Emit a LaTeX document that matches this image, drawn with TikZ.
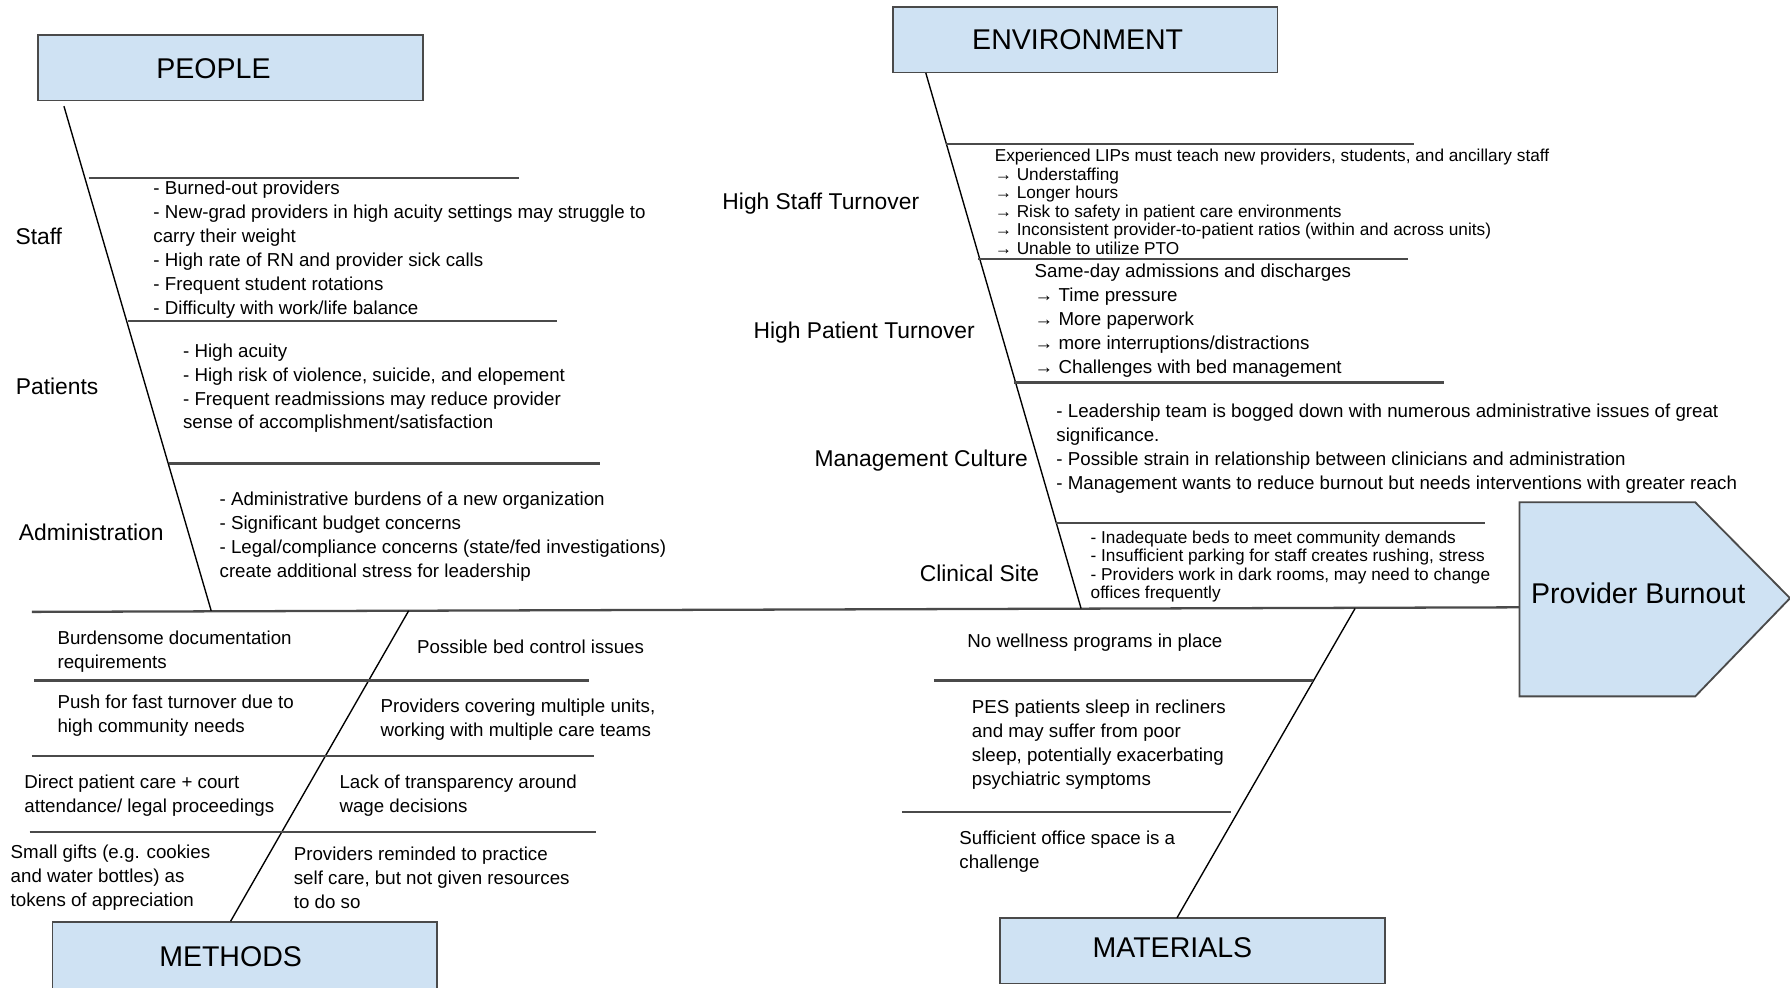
\documentclass[tikz,border=0pt]{standalone}
\usepackage{fontspec}
\setmainfont{Liberation Sans}
\definecolor{catblue}{HTML}{CFE2F3}
\definecolor{ribgray}{HTML}{4A4A4A}
\tikzset{
  catbox/.style={draw=ribgray, line width=0.8pt, fill=catblue, minimum width=168.5pt, minimum height=28.5pt, inner sep=0},
  cattext/.style={font=\fontsize{12.5}{15}\selectfont, inner sep=0},
  cause/.style={font=\fontsize{10}{12}\selectfont, inner sep=0},
  note/.style={font=\fontsize{8.2}{10.5}\selectfont, align=left, anchor=north west, inner sep=0},
  smallnote/.style={font=\fontsize{7.55}{8.1}\selectfont, align=left, anchor=north west, inner sep=0},
  bone/.style={line width=0.6pt},
  rib/.style={draw=ribgray, line width=1pt}
}
\begin{document}
\begin{tikzpicture}[x=0.5pt, y=-0.5pt]
\useasboundingbox (0,0) rectangle (1568,865);
%
     \node [catbox] at (202,59.5) (people) {};
     \node [cattext] at (187,60) (peopleTxt) {PEOPLE};
     \node [catbox] at (950.5,35) (env) {};
     \node [cattext] at (944,35) (envTxt) {ENVIRONMENT};
     \node [catbox, minimum height=30pt] at (214.5,838) (methods) {};
     \node [cattext] at (202,838) (methodsTxt) {METHODS};
     \node [catbox] at (1044.5,833) (materials) {};
     \node [cattext] at (1027,830) (materialsTxt) {MATERIALS};
%
\draw[draw=ribgray, line width=0.8pt, fill=catblue] (1331,440) -- (1485,440) -- (1568,524) -- (1485,610) -- (1331,610) -- cycle;
     \node [cattext] at (1435,520) (effect) {Provider Burnout};
%
     \coordinate (tail) at (28,536);
     \coordinate (head) at (1331,532);
\draw[rib] (tail) -- (head);
%
     \coordinate (pplTop) at (56,93);
     \coordinate (pplFoot) at (185,535);
     \coordinate (envTop) at (811,64);
     \coordinate (envFoot) at (947,533);
     \coordinate (mthTop) at (358,535);
     \coordinate (mthFoot) at (202,807);
     \coordinate (matTop) at (1187,533);
     \coordinate (matFoot) at (1031,804);
\draw[bone] (pplTop) -- (pplFoot);
\draw[bone] (envTop) -- (envFoot);
\draw[bone] (mthTop) -- (mthFoot);
\draw[bone] (matTop) -- (matFoot);
%
     \coordinate (p1a) at (78,156);   \coordinate (p1b) at (455,156);
     \coordinate (p2a) at (112,281);  \coordinate (p2b) at (488,281);
     \coordinate (p3a) at (148,406);  \coordinate (p3b) at (526,406);
\draw[rib] (p1a) -- (p1b);
\draw[rib] (p2a) -- (p2b);
\draw[rib] (p3a) -- (p3b);
     \coordinate (e1a) at (829,126);  \coordinate (e1b) at (1239,126);
     \coordinate (e2a) at (857,227);  \coordinate (e2b) at (1233,227);
     \coordinate (e3a) at (888,335);  \coordinate (e3b) at (1265,335);
     \coordinate (e4a) at (925,458);  \coordinate (e4b) at (1301,458);
\draw[rib] (e1a) -- (e1b);
\draw[rib] (e2a) -- (e2b);
\draw[rib] (e3a) -- (e3b);
\draw[rib] (e4a) -- (e4b);
     \coordinate (m1a) at (30,596);   \coordinate (m1b) at (516,596);
     \coordinate (m2a) at (28,662);   \coordinate (m2b) at (520,662);
     \coordinate (m3a) at (26,729);   \coordinate (m3b) at (522,729);
\draw[rib] (m1a) -- (m1b);
\draw[rib] (m2a) -- (m2b);
\draw[rib] (m3a) -- (m3b);
     \coordinate (t1a) at (818,596);  \coordinate (t1b) at (1150,596);
     \coordinate (t2a) at (790,711);  \coordinate (t2b) at (1078,711);
\draw[rib] (t1a) -- (t1b);
\draw[rib] (t2a) -- (t2b);
%
     \node [cause] at (34,207) (staff) {Staff};
     \node [cause] at (50,338) (patients) {Patients};
     \node [cause] at (80,466) (admin) {Administration};
     \node [cause] at (719,178.5) (staffTurn) {High Staff Turnover};
     \node [cause] at (757,291.5) (patTurn) {High Patient Turnover};
     \node [cause] at (807,403.5) (mgmt) {Management Culture};
     \node [cause] at (858,502) (site) {Clinical Site};
%
     \node [note] at (134,158.5) (staffTxt) {- Burned-out providers\\- New-grad providers in high acuity settings may struggle to\\carry their weight\\- High rate of RN and provider sick calls\\- Frequent student rotations\\- Difficulty with work/life balance};
     \node [note] at (160,300.5) (patientsTxt) {- High acuity\\- High risk of violence, suicide, and elopement\\- Frequent readmissions may reduce provider\\sense of accomplishment/satisfaction};
     \node [note] at (192,430.5) (adminTxt) {- Administrative burdens of a new organization\\- Significant budget concerns\\- Legal/compliance concerns (state/fed investigations)\\create additional stress for leadership};
%
     \node [smallnote] at (871,130.5) (staffTurnTxt) {Experienced LIPs must teach new providers, students, and ancillary staff\\→ Understaffing\\→ Longer hours\\→ Risk to safety in patient care environments\\→ Inconsistent provider-to-patient ratios (within and across units)\\→ Unable to utilize PTO};
     \node [note] at (906,230.5) (patTurnTxt) {Same-day admissions and discharges\\→ Time pressure\\→ More paperwork\\→ more interruptions/distractions\\→ Challenges with bed management};
     \node [note] at (925,353.5) (mgmtTxt) {- Leadership team is bogged down with numerous administrative issues of great\\significance.\\- Possible strain in relationship between clinicians and administration\\- Management wants to reduce burnout but needs interventions with greater reach};
     \node [smallnote] at (955,464.5) (siteTxt) {- Inadequate beds to meet community demands\\- Insufficient parking for staff creates rushing, stress\\- Providers work in dark rooms, may need to change\\offices frequently};
%
     \node [note] at (50,552.5) (docs) {Burdensome documentation\\requirements};
     \node [note] at (365,560.5) (beds) {Possible bed control issues};
     \node [note] at (50,608.5) (fast) {Push for fast turnover due to\\high community needs};
     \node [note] at (333,611.5) (units) {Providers covering multiple units,\\working with multiple care teams};
     \node [note] at (21,678.5) (court) {Direct patient care + court\\attendance/ legal proceedings};
     \node [note] at (297,678.5) (wage) {Lack of transparency around\\wage decisions};
     \node [note] at (9,739.5) (gifts) {Small gifts (e.g. cookies\\and water bottles) as\\tokens of appreciation};
     \node [note] at (257,741.5) (selfcare) {Providers reminded to practice\\self care, but not given resources\\to do so};
%
     \node [note] at (847,554.5) (wellness) {No wellness programs in place};
     \node [note] at (851,612.5) (sleep) {PES patients sleep in recliners\\and may suffer from poor\\sleep, potentially exacerbating\\psychiatric symptoms};
     \node [note] at (840,727.5) (office) {Sufficient office space is a\\challenge};
\end{tikzpicture}
\end{document}
